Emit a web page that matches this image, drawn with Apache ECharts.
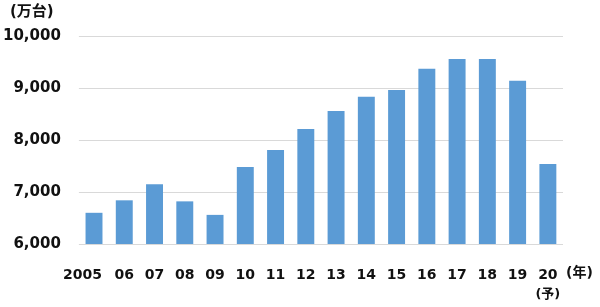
<!DOCTYPE html>
<html><head><meta charset="utf-8">
<script src="https://cdn.jsdelivr.net/npm/echarts@6/dist/echarts.min.js"></script>
<style>html,body{margin:0;padding:0;background:#fff}#c{width:600px;height:307px}</style>
</head><body><div id="c"></div>
<script>
const categories = ["2005","06","07","08","09","10","11","12","13","14","15","16","17","18","19","20"];
const values = [6600,6840,7150,6820,6560,7480,7810,8210,8560,8830,8960,9370,9560,9560,9140,7540];
const yTicks = {min:6000, max:10000, interval:1000};
const unitLabel = "(万台)";
const yearLabel = "(年)";
const forecastNote = "(予)";

const FONT = "'DejaVu Sans','Noto Sans CJK JP',sans-serif";
const chart = echarts.init(document.getElementById('c'), null, {renderer:'canvas'});
chart.setOption({
  animation:false,
  grid:{left:78,right:37,top:36,bottom:63,containLabel:false},
  xAxis:{
    type:'category', data:categories,
    axisLine:{show:false}, axisTick:{show:false},
    axisLabel:{
      interval:0, hideOverlap:false,
      margin:22, color:'#111', fontFamily:FONT, fontWeight:'bold', fontSize:14, lineHeight:19,
      formatter:function(v, i){
        if (i === 0) return "{f|" + v + "}";
        return v === "20" ? v + "\n{s|" + forecastNote + "}" : v;
      },
      rich:{
        s:{fontFamily:FONT, fontWeight:'bold', fontSize:13, color:'#111', lineHeight:19},
        f:{fontFamily:FONT, fontWeight:'bold', fontSize:14, color:'#111', lineHeight:19, padding:[0,23,0,0]}
      }
    }
  },
  yAxis:{
    type:'value', min:yTicks.min, max:yTicks.max, interval:yTicks.interval,
    axisLine:{show:false}, axisTick:{show:false},
    splitLine:{lineStyle:{color:'#d9d9d9', width:1}},
    axisLabel:{margin:18, color:'#111', fontFamily:FONT, fontWeight:'bold', fontSize:15}
  },
  series:[{
    type:'bar', data:values, barWidth:'56%',
    itemStyle:{color:'#5b9bd5'}
  }],
  graphic:[
    {type:'text', left:10, top:5, style:{text:unitLabel, font:"bold 15px " + FONT, fill:'#111'}},
    {type:'text', left:566, top:266, style:{text:yearLabel, font:"bold 14px " + FONT, fill:'#111'}}
  ]
});
</script></body></html>
